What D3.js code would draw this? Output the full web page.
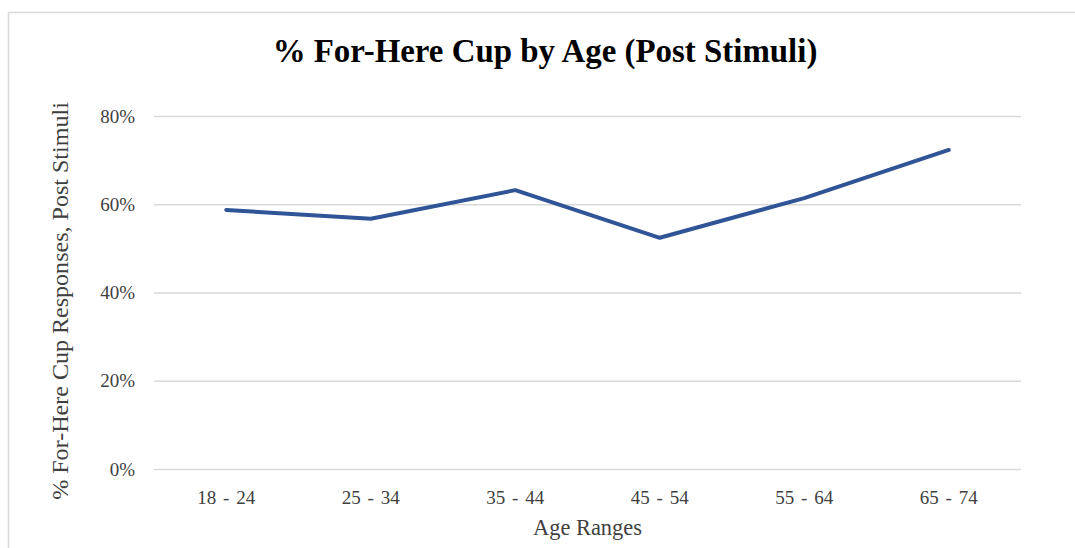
<!DOCTYPE html>
<html>
<head>
<meta charset="utf-8">
<script src="https://cdn.jsdelivr.net/npm/d3@7"></script>
<style>
  body { margin: 0; background: #fff; }
  svg text { font-family: "Liberation Serif", "DejaVu Serif", serif !important; fill: #404040; }
</style>
</head>
<body>
<svg id="chart"></svg>
<script>
var ageRanges = ['18 - 24', '25 - 34', '35 - 44', '45 - 54', '55 - 64', '65 - 74'];
var forHereShare = [0.587, 0.567, 0.632, 0.524, 0.614, 0.723];
var yTicks = [0, 0.2, 0.4, 0.6, 0.8];

var chartTitle = '% For-Here Cup by Age (Post Stimuli)';
var xTitle = 'Age Ranges';
var yTitle = '% For-Here Cup Responses, Post Stimuli';

var width = 1075;
var height = 548;
var margin = { top: 116, right: 54, bottom: 79, left: 154 };

var data = ageRanges.map(function(d, i){ return { age: d, share: forHereShare[i] }; });

var svg = d3.select('#chart')
            .attr('width', width)
            .attr('height', height);

// outer frame
svg.append('rect')
   .attr('x', 8.5)
   .attr('y', 12.5)
   .attr('width', width + 20)
   .attr('height', height + 20)
   .attr('fill', 'none')
   .attr('stroke', '#d9d9d9')
   .attr('stroke-width', 1.5);

var xScale = d3.scaleBand()
               .domain(ageRanges)
               .range([margin.left, width - margin.right]);

var yScale = d3.scaleLinear()
               .domain([0, 0.8])
               .range([height - margin.bottom, margin.top]);

// gridlines + y labels
var yAxis = d3.axisLeft(yScale)
              .tickValues(yTicks)
              .tickFormat(d3.format('.0%'))
              .tickSize(-(width - margin.left - margin.right))
              .tickPadding(19);

var y_axis = svg.append('g')
                .attr('class', 'y_axis')
                .attr('transform', 'translate(' + margin.left + ',0)')
                .call(yAxis)
                .attr('font-family', '"Liberation Serif", serif')
                .attr('font-size', 19);
y_axis.select('.domain').remove();
y_axis.selectAll('line').attr('stroke', '#d9d9d9').attr('stroke-width', 1.5);
y_axis.selectAll('text').attr('fill', '#404040');

// x labels
var xAxis = d3.axisBottom(xScale).tickSize(0).tickPadding(22);
var x_axis = svg.append('g')
                .attr('class', 'x_axis')
                .attr('transform', 'translate(0,' + (height - margin.bottom) + ')')
                .call(xAxis)
                .attr('font-family', '"Liberation Serif", serif')
                .attr('font-size', 19);
x_axis.select('.domain').remove();
x_axis.selectAll('text')
      .style('word-spacing', '2px')
      .attr('fill', '#404040');

// the line
svg.append('path')
   .datum(data)
   .attr('fill', 'none')
   .attr('stroke', '#2f5597')
   .attr('stroke-width', 4)
   .attr('stroke-linecap', 'round')
   .attr('stroke-linejoin', 'round')
   .attr('d', d3.line()
              .x(function(d){ return xScale(d.age) + xScale.bandwidth() / 2; })
              .y(function(d){ return yScale(d.share); }));

// fit a text to a target width by adjusting font size
function fitText(sel, target){
  var size = parseFloat(sel.style('font-size'));
  var w = sel.node().getComputedTextLength();
  sel.style('font-size', (size * target / w) + 'px');
}

var title = svg.append('text')
   .attr('x', 545)
   .attr('y', 62)
   .attr('text-anchor', 'middle')
   .style('font-size', '28px')
   .style('font-weight', 'bold')
   .style('fill', '#000')
   .text(chartTitle);
fitText(title, 545);

var xt = svg.append('text')
   .attr('x', (margin.left + width - margin.right) / 2)
   .attr('y', 535)
   .attr('text-anchor', 'middle')
   .style('font-size', '20px')
   .text(xTitle);
fitText(xt, 109);

var yt = svg.append('text')
   .attr('transform', 'translate(68,301) rotate(-90)')
   .attr('text-anchor', 'middle')
   .style('font-size', '20px')
   .text(yTitle);
fitText(yt, 398);
</script>
</body>
</html>
